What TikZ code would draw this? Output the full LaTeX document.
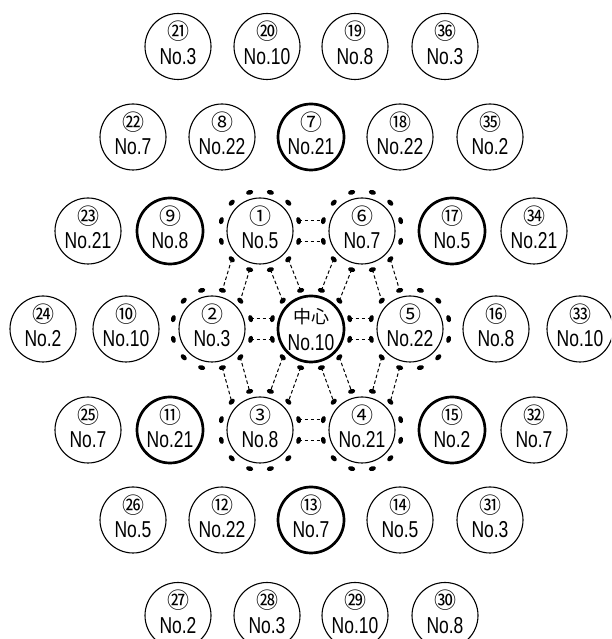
\documentclass[tikz,border=0pt]{standalone}
\usepackage{fontspec}
\usetikzlibrary{calc}
\newfontfamily\nofont[FakeStretch=0.76]{Liberation Sans}
\newfontfamily\cjkfont{Noto Sans CJK JP}
\tikzset{
  ball/.style={circle,draw,minimum size=66pt,inner sep=0pt,line width=1.1pt},
  boldball/.style={ball,line width=2.7pt},
  cnum/.style={inner sep=0pt,font=\cjkfont\fontsize{22}{22}\selectfont},
  nolab/.style={inner sep=0pt,font=\nofont\fontsize{23}{23}\selectfont},
  hublab/.style={inner sep=0pt,font=\cjkfont\fontsize{18}{18}\selectfont},
  link/.style={line width=1pt,dash pattern=on 3.5pt off 2.5pt},
}
\newcommand\cball[6]{%
  \node[#6] (#1) at (#2,#3) {};
  \node[cnum] (#1-n) at ([yshift=15pt]#1.center) {#4};
  \node[nolab] (#1-t) at ([yshift=-10pt]#1.center) {#5};
}
\begin{document}
\begin{tikzpicture}[x=1pt,y=1pt]
\path[use as bounding box] (0,0) rectangle (611,639);
\clip (0,0) rectangle (611,639);
% row -3
\cball{b21}{178}{592.5}{㉑}{No.3}{ball}
\cball{b20}{267}{592.5}{⑳}{No.10}{ball}
\cball{b19}{355}{592.5}{⑲}{No.8}{ball}
\cball{b36}{445}{592.5}{㊱}{No.3}{ball}
% row -2
\cball{b22}{133}{502}{㉒}{No.7}{ball}
\cball{b8}{222}{502}{⑧}{No.22}{ball}
\cball{b7}{311}{502}{⑦}{No.21}{boldball}
\cball{b18}{400}{502}{⑱}{No.22}{ball}
\cball{b35}{490}{502}{㉟}{No.2}{ball}
% row -1
\cball{b23}{88}{408}{㉓}{No.21}{ball}
\cball{b9}{170}{408}{⑨}{No.8}{boldball}
\cball{n1}{260}{408}{①}{No.5}{ball}
\cball{n6}{362}{408}{⑥}{No.7}{ball}
\cball{b17}{452}{408}{⑰}{No.5}{boldball}
\cball{b34}{534}{408}{㉞}{No.21}{ball}
% row 0
\cball{b24}{43}{310}{㉔}{No.2}{ball}
\cball{b10}{126}{310}{⑩}{No.10}{ball}
\cball{n2}{212}{310}{②}{No.3}{ball}
\node[boldball] (c) at (311,310) {};
\node[hublab] (c-n) at ([yshift=12pt]c.center) {中心};
\node[nolab] (c-t) at ([yshift=-14pt]c.center) {No.10};
\cball{n5}{410}{310}{⑤}{No.22}{ball}
\cball{b16}{496}{310}{⑯}{No.8}{ball}
\cball{b33}{580}{310}{㉝}{No.10}{ball}
% row +1
\cball{b25}{88}{209}{㉕}{No.7}{ball}
\cball{b11}{170}{209}{⑪}{No.21}{boldball}
\cball{n3}{260}{209}{③}{No.8}{ball}
\cball{n4}{362}{209}{④}{No.21}{ball}
\cball{b15}{452}{209}{⑮}{No.2}{boldball}
\cball{b32}{534}{209}{㉜}{No.7}{ball}
% row +2
\cball{b26}{133}{119}{㉖}{No.5}{ball}
\cball{b12}{222}{119}{⑫}{No.22}{ball}
\cball{b13}{311}{119}{⑬}{No.7}{boldball}
\cball{b14}{400}{119}{⑭}{No.5}{ball}
\cball{b31}{490}{119}{㉛}{No.3}{ball}
% row +3
\cball{b27}{178}{23.5}{㉗}{No.2}{ball}
\cball{b28}{267}{23.5}{㉘}{No.3}{ball}
\cball{b29}{355}{23.5}{㉙}{No.10}{ball}
\cball{b30}{445}{23.5}{㉚}{No.8}{ball}
% dot rings
\foreach \n in {c,n1,n2,n3,n4,n5,n6}{
  \foreach \a in {15,45,...,345}{
    \path (\n.center) ++(\a:40pt) coordinate (\n-\a);
    \fill[shift={(\n-\a)},rotate=\a] (0,0) ellipse (2.4pt and 3.6pt);
  }
}
% links
\foreach \p/\q in {n1-15/n6-165, n1-345/n6-195,
  n1-315/c-105, n1-285/c-135,
  n1-255/n2-45, n1-225/n2-75,
  n6-255/c-45, n6-225/c-75,
  n6-315/n5-105, n6-285/n5-135,
  n2-15/c-165, n2-345/c-195,
  n2-315/n3-105, n2-285/n3-135,
  c-15/n5-165, c-345/n5-195,
  c-255/n3-45, c-225/n3-75,
  c-315/n4-105, c-285/n4-135,
  n3-15/n4-165, n3-345/n4-195,
  n5-255/n4-45, n5-225/n4-75}{
  \draw[link] (\p) -- (\q);
}
\end{tikzpicture}
\end{document}
